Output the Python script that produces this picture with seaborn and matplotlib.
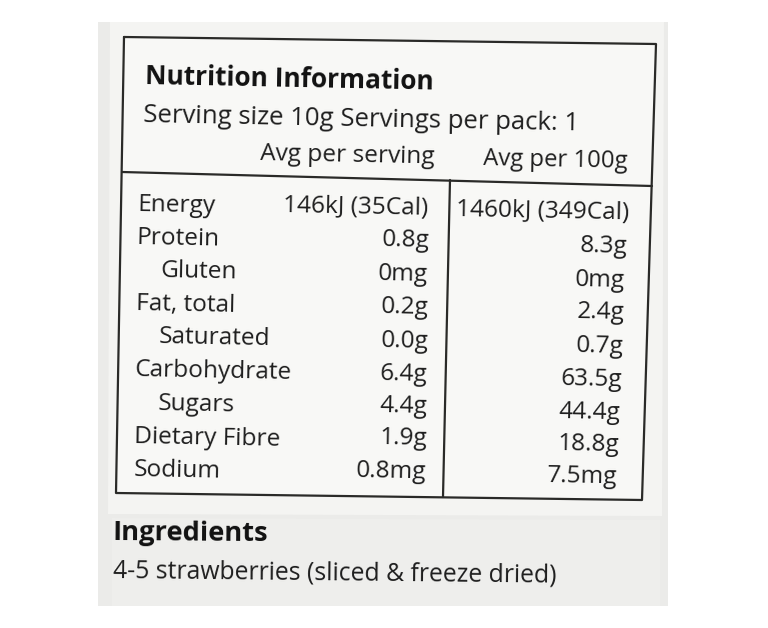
import pandas as pd
import matplotlib.pyplot as plt
from matplotlib.patches import Polygon
import seaborn as sns

# label content
nutrients = ['Energy', 'Protein', 'Gluten', 'Fat, total', 'Saturated',
             'Carbohydrate', 'Sugars', 'Dietary Fibre', 'Sodium']
sub_item = [False, False, True, False, True, False, True, False, False]
per_serving = ['146kJ (35Cal)', '0.8g', '0mg', '0.2g', '0.0g',
               '6.4g', '4.4g', '1.9g', '0.8mg']
per_100g = ['1460kJ (349Cal)', '8.3g', '0mg', '2.4g', '0.7g',
            '63.5g', '44.4g', '18.8g', '7.5mg']
title = 'Nutrition Information'
serving_line = 'Serving size 10g Servings per pack: 1'
col_heads = ['Avg per serving', 'Avg per 100g']
ingr_title = 'Ingredients'
ingr_text = '4-5 strawberries (sliced & freeze dried)'

sns.set_theme(style='white')
plt.rcParams['font.family'] = ['Open Sans', 'DejaVu Sans']

fig = plt.figure(figsize=(7.68, 6.28), dpi=100)
ax = fig.add_axes([0, 0, 1, 1])
fig.patch.set_facecolor('white')

# paper background
ax.add_patch(Polygon([(98, 22), (668, 22), (668, 606), (98, 606)],
                     closed=True, fc='#ebebe9', ec='none'))
ax.add_patch(Polygon([(110, 22), (664, 22), (662, 516), (108, 514)],
                     closed=True, fc='#f4f4f2', ec='none'))
ax.add_patch(Polygon([(112, 518), (660, 520), (660, 606), (112, 606)],
                     closed=True, fc='#eeeeec', ec='none'))
ax.add_patch(Polygon([(124, 37), (656, 44), (642, 500), (116, 493)],
                     closed=True, fc='#f8f8f6', ec='none'))

# frame lines
frame = pd.DataFrame({
    'x': [124, 656, 642, 116, 124, 122, 652, 450, 443],
    'y': [37, 44, 500, 493, 37, 172, 186, 180, 497],
    'seg': ['box'] * 5 + ['head'] * 2 + ['div'] * 2,
})
for seg, d in frame.groupby('seg'):
    sns.lineplot(data=d, x='x', y='y', sort=False, estimator=None,
                 color='#2a2a28', lw=1.6, ax=ax)
ax.set_xlim(0, 768)
ax.set_ylim(628, 0)
ax.axis('off')

ink = '#1e1e1e'
rot = -1.1
fs = 17.6

ax.text(145, 84, title, fontsize=18.9, fontweight='bold', color='#111111',
        ha='left', va='baseline', rotation=rot, rotation_mode='anchor')
ax.text(143, 122, serving_line, fontsize=18.5, color=ink,
        ha='left', va='baseline', rotation=rot, rotation_mode='anchor')
ax.text(434, 163, col_heads[0], fontsize=fs, color=ink,
        ha='right', va='baseline', rotation=rot, rotation_mode='anchor')
ax.text(627, 168, col_heads[1], fontsize=17.2, color=ink,
        ha='right', va='baseline', rotation=rot, rotation_mode='anchor')

lab_base = [211, 244, 277, 310, 343, 376, 410, 443, 476]
lab_x = [138, 137, 136, 136, 135, 135, 134, 134, 134]
srv_base = [214, 247, 281, 314, 348, 381, 413, 445, 478]
srv_x = [428, 429, 428, 428, 428, 427, 427, 427, 426]
h_base = [219, 253, 287, 319, 353, 386, 419, 451, 483]
h_x = [629, 627, 625, 624, 623, 622, 620, 619, 617]

for i, name in enumerate(nutrients):
    x0 = lab_x[i] + (24 if sub_item[i] else 0)
    ax.text(x0, lab_base[i], name, fontsize=fs, color=ink,
            ha='left', va='baseline', rotation=rot, rotation_mode='anchor')
    ax.text(srv_x[i], srv_base[i], per_serving[i], fontsize=fs, color=ink,
            ha='right', va='baseline', rotation=rot, rotation_mode='anchor')
    ax.text(h_x[i], h_base[i], per_100g[i], fontsize=fs, color=ink,
            ha='right', va='baseline', rotation=rot, rotation_mode='anchor')

ax.text(113, 540, ingr_title, fontsize=19.6, fontweight='bold', color='#111111',
        ha='left', va='baseline', rotation=-0.4, rotation_mode='anchor')
ax.text(113, 578, ingr_text, fontsize=17.8, color=ink,
        ha='left', va='baseline', rotation=-0.6, rotation_mode='anchor')

fig.savefig('out.png', dpi=100, facecolor='white')
